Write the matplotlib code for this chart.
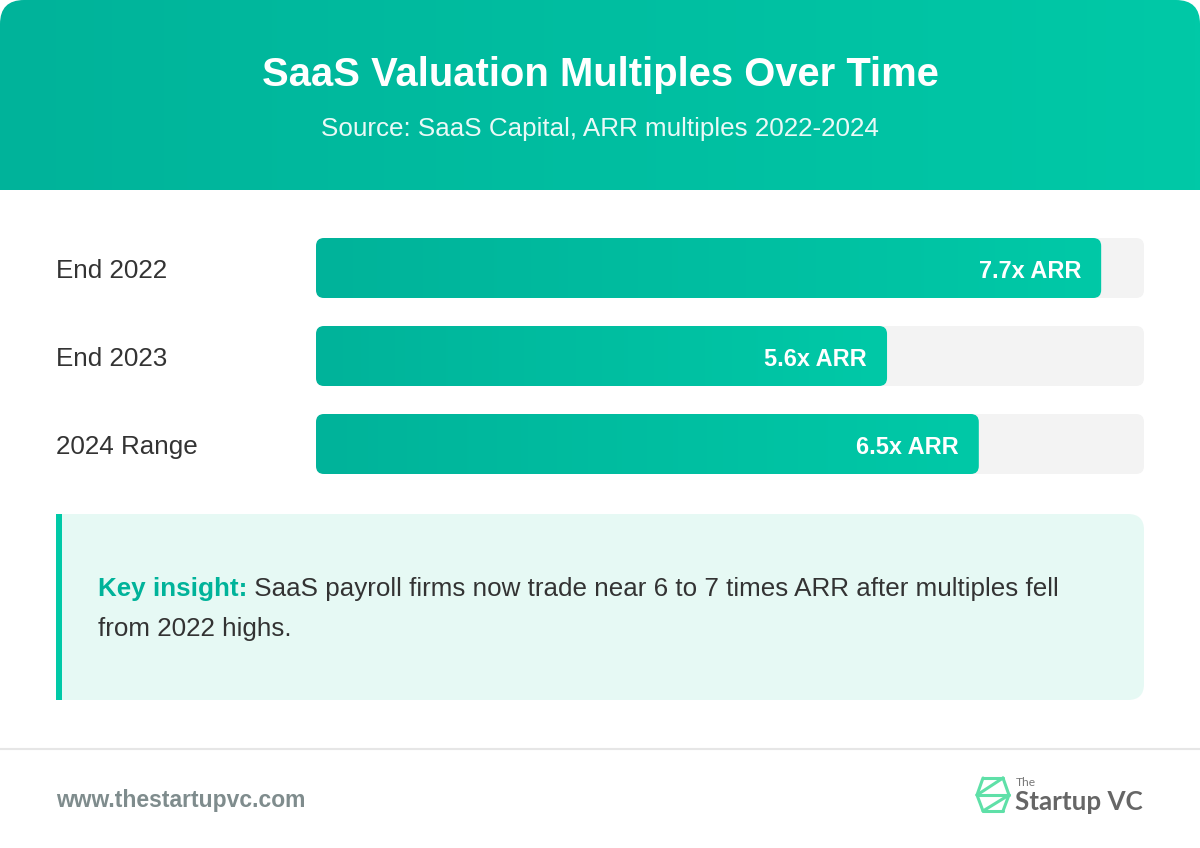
import numpy as np
import matplotlib
matplotlib.use("Agg")
import matplotlib.pyplot as plt
from matplotlib.patches import FancyBboxPatch, Rectangle
from matplotlib.colors import LinearSegmentedColormap
import matplotlib.transforms as mtransforms

plt.rcParams['font.family'] = ['Liberation Sans', 'DejaVu Sans']

# data
categories = ["End 2022", "End 2023", "2024 Range"]
multiples = [7.7, 5.6, 6.5]
value_labels = ["7.7x ARR", "5.6x ARR", "6.5x ARR"]
x_max = 8.12

title = "SaaS Valuation Multiples Over Time"
subtitle = "Source: SaaS Capital, ARR multiples 2022-2024"
insight_head = "Key insight:"
insight_line1 = " SaaS payroll firms now trade near 6 to 7 times ARR after multiples fell"
insight_line2 = "from 2022 highs."
site = "www.thestartupvc.com"

W, H = 1200, 848
DPI = 100


def px(v):
    # pixel font size -> points
    return v * 72 / DPI


green_cmap = LinearSegmentedColormap.from_list("g", ["#00b39a", "#00c9a7"])
grad = np.linspace(0, 1, 256).reshape(1, -1)

fig = plt.figure(figsize=(W / DPI, H / DPI), dpi=DPI, facecolor="white")

# page layer in pixel coordinates
bg = fig.add_axes([0, 0, 1, 1])
bg.set_xlim(0, W)
bg.set_ylim(H, 0)
bg.axis("off")

card = FancyBboxPatch((0, 0), W, H, boxstyle="round,pad=0,rounding_size=24",
                      facecolor="white", edgecolor="none", zorder=0)
bg.add_patch(card)

# header
hdr = bg.imshow(grad, cmap=green_cmap, extent=[0, W, 190, 0], aspect="auto", zorder=1)
hdr.set_clip_path(card)
bg.set_xlim(0, W)
bg.set_ylim(H, 0)
bg.text(W / 2, 75, title, ha="center", va="center", color="white",
        fontsize=px(40), fontweight="bold", zorder=3)
bg.text(W / 2, 129, subtitle, ha="center", va="center", color="white", alpha=0.92,
        fontsize=px(26), zorder=3)

# insight box
box = FancyBboxPatch((56, 514), 1088, 186, boxstyle="round,pad=0,rounding_size=16",
                     facecolor="#e6f9f4", edgecolor="none", zorder=1)
bg.add_patch(box)
bg.add_patch(Rectangle((56, 514), 40, 186, facecolor="#e6f9f4", edgecolor="none", zorder=1))
bg.add_patch(Rectangle((56, 514), 6, 186, facecolor="#00c9a7", edgecolor="none", zorder=2))
head = bg.text(98, 589, insight_head, ha="left", va="center", color="#00b39a",
               fontsize=px(26), fontweight="bold", zorder=3)
fig.canvas.draw()
ext = head.get_window_extent()
inv = bg.transData.inverted()
x_end = inv.transform((ext.x1, ext.y0))[0]
bg.text(x_end, 589, insight_line1, ha="left", va="center", color="#333333",
        fontsize=px(26), zorder=3)
bg.text(98, 629, insight_line2, ha="left", va="center", color="#333333",
        fontsize=px(26), zorder=3)

# footer
bg.plot([0, W], [748.5, 748.5], color="#e6e6e6", lw=1.5, zorder=2)
bg.text(56, 800, site, ha="left", va="center", color="#7f8c8d",
        fontsize=px(22.9), fontweight="bold", zorder=3)

# logo
logo_c = "#5fe0a8"
icon = [
    [(983, 778), (1003, 778)],
    [(983, 778), (977, 795)],
    [(1003, 778), (1009, 795)],
    [(1003, 778), (977, 795)],
    [(977, 795), (1009, 795)],
    [(977, 795), (983, 811)],
    [(1009, 795), (1003, 811)],
    [(1009, 795), (983, 811)],
    [(983, 811), (1003, 811)],
]
for seg in icon:
    xs, ys = zip(*seg)
    bg.plot(xs, ys, color=logo_c, lw=2.2, solid_capstyle="round", zorder=3)
bg.text(1016, 783, "The", ha="left", va="center", color="#777777",
        fontsize=px(12), family=["Lato", "DejaVu Sans"], zorder=3)
bg.text(1015, 802, "Startup VC", ha="left", va="center", color="#666666",
        fontsize=px(26), fontweight="bold", family=["Lato", "DejaVu Sans"], zorder=3)

# bar chart layer
left, right = 316, 1144
top, bottom = 224, 488
ax = fig.add_axes([left / W, 1 - bottom / H, (right - left) / W, (bottom - top) / H])
ax.set_xlim(0, x_max)
ax.set_ylim(len(categories) - 0.5, -0.5)
ax.axis("off")

bar_h = 60 / 88
ux = x_max / (right - left)          # data units per pixel in x
uy = 1 / 88                          # data units per pixel in y
r = 8 * ux
aspect = uy / ux
dy = 3 * uy                          # text baseline nudge

ypos = np.arange(len(categories))
bars = ax.barh(ypos, multiples, height=bar_h, color="none")
lab_tr = mtransforms.blended_transform_factory(ax.transAxes, ax.transData)

for i, b in enumerate(bars):
    y0 = b.get_y()
    track = FancyBboxPatch((0, y0), x_max, bar_h,
                           boxstyle=f"round,pad=0,rounding_size={r}",
                           mutation_aspect=aspect, facecolor="#f3f3f3",
                           edgecolor="none", zorder=1)
    ax.add_patch(track)
    fill = FancyBboxPatch((0, y0), b.get_width(), bar_h,
                          boxstyle=f"round,pad=0,rounding_size={r}",
                          mutation_aspect=aspect, facecolor="none",
                          edgecolor="none", zorder=2)
    ax.add_patch(fill)
    im = ax.imshow(grad, cmap=green_cmap, extent=[0, b.get_width(), y0 + bar_h, y0],
                   aspect="auto", zorder=2)
    im.set_clip_path(fill)
    ax.text(b.get_width() - 20 * ux, i + dy, value_labels[i], ha="right", va="center",
            color="white", fontsize=px(23.5), fontweight="bold", zorder=3)
    ax.text((56 - left) / (right - left), i + dy, categories[i], transform=lab_tr,
            ha="left", va="center", color="#333333", fontsize=px(26))

ax.set_xlim(0, x_max)
ax.set_ylim(len(categories) - 0.5, -0.5)

fig.savefig("out.png", dpi=DPI, facecolor="white")
